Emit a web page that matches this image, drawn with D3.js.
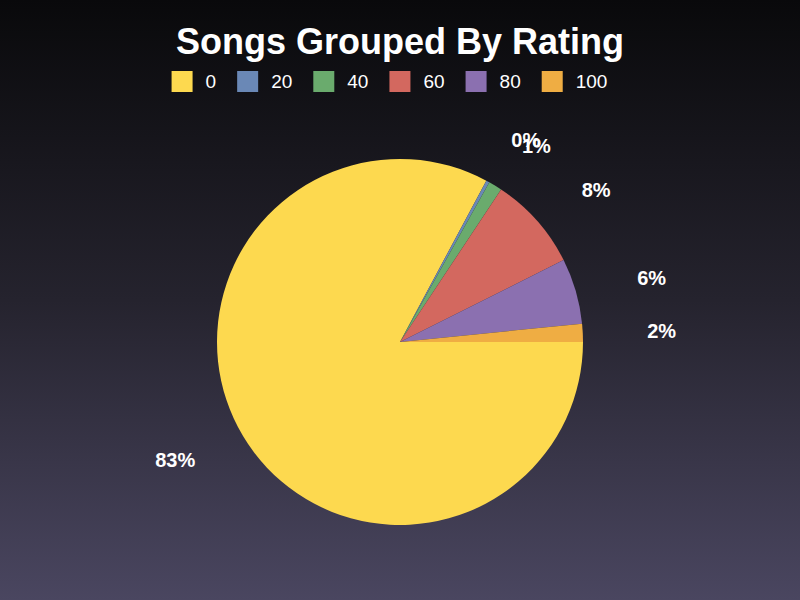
<!DOCTYPE html>
<html>
<head>
<meta charset="utf-8">
<script src="https://cdn.jsdelivr.net/npm/d3@7"></script>
<style>
  html, body { margin: 0; padding: 0; background: #000; }
  svg { display: block; }
</style>
</head>
<body>
<svg id="chart" width="800" height="600"></svg>
<script>
// ratings and share of songs (percent)
var ratings = ["0", "20", "40", "60", "80", "100"];
var shares = [82.9, 0.3, 1.2, 8.3, 5.8, 1.6];
var colors = ["#fdd94f", "#6a88b6", "#6aab6d", "#d3685f", "#8b70b0", "#efad43"];

var W = 800, H = 600;
var cx = 400, cy = 342, radius = 183;

var svg = d3.select("#chart");

/* background gradient */
var defs = svg.append("defs");
var grad = defs.append("linearGradient").attr("id", "bg")
    .attr("x1", 0).attr("y1", 0).attr("x2", 0).attr("y2", 1);
grad.append("stop").attr("offset", "0%").attr("stop-color", "#09090b");
grad.append("stop").attr("offset", "50%").attr("stop-color", "#25232e");
grad.append("stop").attr("offset", "100%").attr("stop-color", "#4a4660");
svg.append("rect").attr("width", W).attr("height", H).attr("fill", "url(#bg)");

/* title */
svg.append("text")
    .attr("x", W / 2).attr("y", 54)
    .attr("text-anchor", "middle")
    .attr("font-family", "Liberation Sans, Arial, sans-serif")
    .attr("font-weight", "bold")
    .attr("font-size", 36)
    .attr("fill", "#fff")
    .text("Songs Grouped By Rating");

/* legend: square, gap, label, gap (trailing gap kept when centring) */
var color = d3.scaleOrdinal().domain(ratings).range(colors);
var legend = svg.append("g").attr("font-family", "Liberation Sans, Arial, sans-serif")
    .attr("font-size", 19);
var lx = 0;
ratings.forEach(function (r) {
    var g = legend.append("g").attr("transform", "translate(" + lx + ",0)");
    g.append("rect").attr("width", 21).attr("height", 21).attr("y", 71).attr("fill", color(r));
    var t = g.append("text").attr("x", 34).attr("y", 88).attr("fill", "#fff").text(r);
    var tw = t.node().getComputedTextLength();
    lx += 34 + tw + 21;
});
legend.attr("transform", "translate(" + ((W - lx) / 2) + ",0)");

/* pie: starts at 3 o'clock, goes clockwise */
var pie = d3.pie().sort(null).value(function (d) { return d.v; })
    .startAngle(Math.PI / 2).endAngle(Math.PI / 2 + 2 * Math.PI);
var data = ratings.map(function (r, i) { return { k: r, v: shares[i] }; });
var arcs = pie(data);
var arc = d3.arc().innerRadius(0).outerRadius(radius);

var pieG = svg.append("g").attr("transform", "translate(" + cx + "," + cy + ")");
pieG.selectAll("path").data(arcs).enter().append("path")
    .attr("d", arc)
    .attr("fill", function (d) { return color(d.data.k); });

/* labels sit on an ellipse around the pie */
var total = d3.sum(shares);
var lrx = 262, lry = 230;
pieG.selectAll("text.lbl").data(arcs).enter().append("text")
    .attr("class", "lbl")
    .attr("x", function (d) { var a = (d.startAngle + d.endAngle) / 2; return lrx * Math.sin(a); })
    .attr("y", function (d) { var a = (d.startAngle + d.endAngle) / 2; return -lry * Math.cos(a); })
    .attr("dy", "0.36em")
    .attr("text-anchor", "middle")
    .attr("font-family", "Liberation Sans, Arial, sans-serif")
    .attr("font-weight", "bold")
    .attr("font-size", 20)
    .attr("fill", "#fff")
    .text(function (d) { return Math.round(d.data.v / total * 100) + "%"; });
</script>
</body>
</html>
